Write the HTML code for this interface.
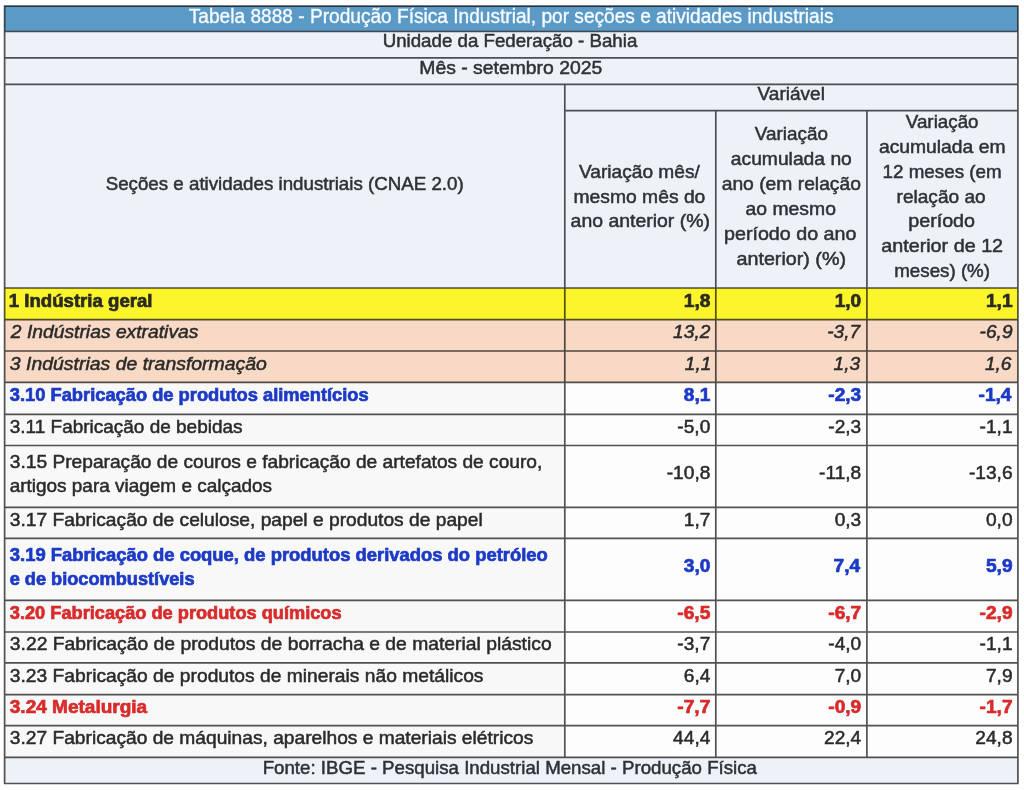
<!DOCTYPE html>
<html><head><meta charset="utf-8"><style>
html,body{margin:0;padding:0;background:#ffffff;width:1024px;height:790px;overflow:hidden}
svg{display:block;filter:blur(0.25px)}
text{font-family:"Liberation Sans",sans-serif;font-size:18.4px}
</style></head><body>
<svg width="1024" height="790" viewBox="0 0 1024 790">
<rect x="4.60" y="6.10" width="1013.30" height="25.40" fill="#5b9ac7"/>
<rect x="4.60" y="31.50" width="1013.30" height="256.50" fill="#edf1f8"/>
<rect x="4.60" y="288.00" width="1013.30" height="31.70" fill="#fcf52c"/>
<rect x="4.60" y="319.70" width="1013.30" height="62.70" fill="#f8d9c5"/>
<rect x="4.60" y="382.40" width="560.20" height="374.90" fill="#f8f8f8"/>
<rect x="564.80" y="382.40" width="453.10" height="374.90" fill="#fdfdfd"/>
<rect x="4.60" y="757.30" width="1013.30" height="26.20" fill="#edf1f8"/>
<path fill="rgba(0,0,0,0.68)" d="M3.75 5.25h1015.00v1.70h-1015.00zM3.75 30.65h1015.00v1.70h-1015.00zM3.75 57.05h1015.00v1.70h-1015.00zM3.75 83.55h1015.00v1.70h-1015.00zM3.75 287.15h1015.00v1.70h-1015.00zM3.75 318.85h1015.00v1.70h-1015.00zM3.75 350.15h1015.00v1.70h-1015.00zM3.75 381.55h1015.00v1.70h-1015.00zM3.75 413.55h1015.00v1.70h-1015.00zM3.75 444.65h1015.00v1.70h-1015.00zM3.75 506.55h1015.00v1.70h-1015.00zM3.75 537.45h1015.00v1.70h-1015.00zM3.75 599.45h1015.00v1.70h-1015.00zM3.75 631.15h1015.00v1.70h-1015.00zM3.75 662.05h1015.00v1.70h-1015.00zM3.75 693.75h1015.00v1.70h-1015.00zM3.75 724.75h1015.00v1.70h-1015.00zM3.75 756.45h1015.00v1.70h-1015.00zM3.75 782.65h1015.00v1.70h-1015.00zM565.65 109.75h451.40v1.70h-451.40zM3.75 6.95h1.70v775.70h-1.70zM1017.05 6.95h1.70v775.70h-1.70zM563.95 85.25h1.70v671.20h-1.70zM714.95 111.45h1.70v645.00h-1.70zM866.05 111.45h1.70v645.00h-1.70z"/>
<text x="188.80" y="22.50" fill="#f6fbff" stroke="#f6fbff" stroke-width="0.35" style="font-size:19.4px" textLength="644.69" lengthAdjust="spacingAndGlyphs">Tabela 8888 - Produção Física Industrial, por seções e atividades industriais</text>
<text x="382.68" y="47.10" fill="#2e3236" stroke="#2e3236" stroke-width="0.5" textLength="254.63" lengthAdjust="spacingAndGlyphs">Unidade da Federação - Bahia</text>
<text x="419.25" y="73.90" fill="#2e3236" stroke="#2e3236" stroke-width="0.5" textLength="182.99" lengthAdjust="spacingAndGlyphs">Mês - setembro 2025</text>
<text x="757.60" y="100.10" fill="#2e3236" stroke="#2e3236" stroke-width="0.5" textLength="67.32" lengthAdjust="spacingAndGlyphs">Variável</text>
<text x="105.70" y="190.00" fill="#2e3236" stroke="#2e3236" stroke-width="0.5" textLength="358.04" lengthAdjust="spacingAndGlyphs">Seções e atividades industriais (CNAE 2.0)</text>
<text x="579.00" y="177.60" fill="#2e3236" stroke="#2e3236" stroke-width="0.5" textLength="120.77" lengthAdjust="spacingAndGlyphs">Variação mês/</text>
<text x="573.55" y="202.50" fill="#2e3236" stroke="#2e3236" stroke-width="0.5" textLength="131.79" lengthAdjust="spacingAndGlyphs">mesmo mês do</text>
<text x="570.60" y="227.40" fill="#2e3236" stroke="#2e3236" stroke-width="0.5" textLength="139.39" lengthAdjust="spacingAndGlyphs">ano anterior (%)</text>
<text x="754.80" y="140.30" fill="#2e3236" stroke="#2e3236" stroke-width="0.5" textLength="73.13" lengthAdjust="spacingAndGlyphs">Variação</text>
<text x="730.80" y="165.20" fill="#2e3236" stroke="#2e3236" stroke-width="0.5" textLength="121.04" lengthAdjust="spacingAndGlyphs">acumulada no</text>
<text x="721.70" y="190.10" fill="#2e3236" stroke="#2e3236" stroke-width="0.5" textLength="139.24" lengthAdjust="spacingAndGlyphs">ano (em relação</text>
<text x="745.60" y="215.00" fill="#2e3236" stroke="#2e3236" stroke-width="0.5" textLength="90.34" lengthAdjust="spacingAndGlyphs">ao mesmo</text>
<text x="724.03" y="239.90" fill="#2e3236" stroke="#2e3236" stroke-width="0.5" textLength="132.41" lengthAdjust="spacingAndGlyphs">período do ano</text>
<text x="736.50" y="264.80" fill="#2e3236" stroke="#2e3236" stroke-width="0.5" textLength="109.50" lengthAdjust="spacingAndGlyphs">anterior) (%)</text>
<text x="905.80" y="127.80" fill="#2e3236" stroke="#2e3236" stroke-width="0.5" textLength="72.73" lengthAdjust="spacingAndGlyphs">Variação</text>
<text x="878.90" y="152.70" fill="#2e3236" stroke="#2e3236" stroke-width="0.5" textLength="126.64" lengthAdjust="spacingAndGlyphs">acumulada em</text>
<text x="882.58" y="177.60" fill="#2e3236" stroke="#2e3236" stroke-width="0.5" textLength="119.05" lengthAdjust="spacingAndGlyphs">12 meses (em</text>
<text x="896.56" y="202.50" fill="#2e3236" stroke="#2e3236" stroke-width="0.5" textLength="89.07" lengthAdjust="spacingAndGlyphs">relação ao</text>
<text x="908.23" y="227.40" fill="#2e3236" stroke="#2e3236" stroke-width="0.5" textLength="66.82" lengthAdjust="spacingAndGlyphs">período</text>
<text x="881.20" y="252.30" fill="#2e3236" stroke="#2e3236" stroke-width="0.5" textLength="121.94" lengthAdjust="spacingAndGlyphs">anterior de 12</text>
<text x="894.28" y="277.20" fill="#2e3236" stroke="#2e3236" stroke-width="0.5" textLength="95.76" lengthAdjust="spacingAndGlyphs">meses) (%)</text>
<text x="262.68" y="773.60" fill="#2e3236" stroke="#2e3236" stroke-width="0.5" textLength="494.33" lengthAdjust="spacingAndGlyphs">Fonte: IBGE - Pesquisa Industrial Mensal - Produção Física</text>
<text x="8.79" y="306.85" fill="#2b2b22" font-weight="bold" stroke="#2b2b22" stroke-width="0.7" textLength="143.73" lengthAdjust="spacingAndGlyphs">1 Indústria geral</text>
<text x="683.76" y="306.85" fill="#2b2b22" font-weight="bold" stroke="#2b2b22" stroke-width="0.7" textLength="26.58" lengthAdjust="spacingAndGlyphs">1,8</text>
<text x="834.66" y="306.85" fill="#2b2b22" font-weight="bold" stroke="#2b2b22" stroke-width="0.7" textLength="26.58" lengthAdjust="spacingAndGlyphs">1,0</text>
<text x="985.96" y="306.85" fill="#2b2b22" font-weight="bold" stroke="#2b2b22" stroke-width="0.7" textLength="26.58" lengthAdjust="spacingAndGlyphs">1,1</text>
<text x="10.85" y="338.35" fill="#2a2a2a" font-style="italic" stroke="#2a2a2a" stroke-width="0.5" textLength="187.56" lengthAdjust="spacingAndGlyphs">2 Indústrias extrativas</text>
<text x="673.13" y="338.35" fill="#2a2a2a" font-style="italic" stroke="#2a2a2a" stroke-width="0.5" textLength="37.21" lengthAdjust="spacingAndGlyphs">13,2</text>
<text x="827.25" y="338.35" fill="#2a2a2a" font-style="italic" stroke="#2a2a2a" stroke-width="0.5" textLength="32.94" lengthAdjust="spacingAndGlyphs">-3,7</text>
<text x="979.59" y="338.35" fill="#2a2a2a" font-style="italic" stroke="#2a2a2a" stroke-width="0.5" textLength="32.94" lengthAdjust="spacingAndGlyphs">-6,9</text>
<text x="9.80" y="369.70" fill="#2a2a2a" font-style="italic" stroke="#2a2a2a" stroke-width="0.5" textLength="257.14" lengthAdjust="spacingAndGlyphs">3 Indústrias de transformação</text>
<text x="684.80" y="369.70" fill="#2a2a2a" font-style="italic" stroke="#2a2a2a" stroke-width="0.5" textLength="26.58" lengthAdjust="spacingAndGlyphs">1,1</text>
<text x="833.62" y="369.70" fill="#2a2a2a" font-style="italic" stroke="#2a2a2a" stroke-width="0.5" textLength="26.58" lengthAdjust="spacingAndGlyphs">1,3</text>
<text x="984.92" y="369.70" fill="#2a2a2a" font-style="italic" stroke="#2a2a2a" stroke-width="0.5" textLength="26.58" lengthAdjust="spacingAndGlyphs">1,6</text>
<text x="9.80" y="401.40" fill="#1c3ac6" font-weight="bold" stroke="#1c3ac6" stroke-width="0.7" textLength="358.93" lengthAdjust="spacingAndGlyphs">3.10 Fabricação de produtos alimentícios</text>
<text x="683.76" y="401.40" fill="#1c3ac6" font-weight="bold" stroke="#1c3ac6" stroke-width="0.7" textLength="26.58" lengthAdjust="spacingAndGlyphs">8,1</text>
<text x="828.29" y="401.40" fill="#1c3ac6" font-weight="bold" stroke="#1c3ac6" stroke-width="0.7" textLength="32.94" lengthAdjust="spacingAndGlyphs">-2,3</text>
<text x="978.55" y="401.40" fill="#1c3ac6" font-weight="bold" stroke="#1c3ac6" stroke-width="0.7" textLength="32.94" lengthAdjust="spacingAndGlyphs">-1,4</text>
<text x="9.80" y="432.95" fill="#2a2a2a" stroke="#2a2a2a" stroke-width="0.5" textLength="232.70" lengthAdjust="spacingAndGlyphs">3.11 Fabricação de bebidas</text>
<text x="677.39" y="432.95" fill="#2a2a2a" stroke="#2a2a2a" stroke-width="0.5" textLength="32.94" lengthAdjust="spacingAndGlyphs">-5,0</text>
<text x="828.29" y="432.95" fill="#2a2a2a" stroke="#2a2a2a" stroke-width="0.5" textLength="32.94" lengthAdjust="spacingAndGlyphs">-2,3</text>
<text x="979.59" y="432.95" fill="#2a2a2a" stroke="#2a2a2a" stroke-width="0.5" textLength="32.94" lengthAdjust="spacingAndGlyphs">-1,1</text>
<text x="9.80" y="467.65" fill="#2a2a2a" stroke="#2a2a2a" stroke-width="0.5" textLength="532.56" lengthAdjust="spacingAndGlyphs">3.15 Preparação de couros e fabricação de artefatos de couro,</text>
<text x="9.70" y="492.05" fill="#2a2a2a" stroke="#2a2a2a" stroke-width="0.5" textLength="262.30" lengthAdjust="spacingAndGlyphs">artigos para viagem e calçados</text>
<text x="666.76" y="479.45" fill="#2a2a2a" stroke="#2a2a2a" stroke-width="0.5" textLength="43.58" lengthAdjust="spacingAndGlyphs">-10,8</text>
<text x="819.08" y="479.45" fill="#2a2a2a" stroke="#2a2a2a" stroke-width="0.5" textLength="42.16" lengthAdjust="spacingAndGlyphs">-11,8</text>
<text x="968.96" y="479.45" fill="#2a2a2a" stroke="#2a2a2a" stroke-width="0.5" textLength="43.58" lengthAdjust="spacingAndGlyphs">-13,6</text>
<text x="9.80" y="525.85" fill="#2a2a2a" stroke="#2a2a2a" stroke-width="0.5" textLength="472.93" lengthAdjust="spacingAndGlyphs">3.17 Fabricação de celulose, papel e produtos de papel</text>
<text x="683.76" y="525.85" fill="#2a2a2a" stroke="#2a2a2a" stroke-width="0.5" textLength="26.58" lengthAdjust="spacingAndGlyphs">1,7</text>
<text x="834.66" y="525.85" fill="#2a2a2a" stroke="#2a2a2a" stroke-width="0.5" textLength="26.58" lengthAdjust="spacingAndGlyphs">0,3</text>
<text x="985.96" y="525.85" fill="#2a2a2a" stroke="#2a2a2a" stroke-width="0.5" textLength="26.58" lengthAdjust="spacingAndGlyphs">0,0</text>
<text x="9.80" y="560.50" fill="#1c3ac6" font-weight="bold" stroke="#1c3ac6" stroke-width="0.7" textLength="538.03" lengthAdjust="spacingAndGlyphs">3.19 Fabricação de coque, de produtos derivados do petróleo</text>
<text x="9.70" y="584.90" fill="#1c3ac6" font-weight="bold" stroke="#1c3ac6" stroke-width="0.7" textLength="184.83" lengthAdjust="spacingAndGlyphs">e de biocombustíveis</text>
<text x="683.76" y="572.30" fill="#1c3ac6" font-weight="bold" stroke="#1c3ac6" stroke-width="0.7" textLength="26.58" lengthAdjust="spacingAndGlyphs">3,0</text>
<text x="833.62" y="572.30" fill="#1c3ac6" font-weight="bold" stroke="#1c3ac6" stroke-width="0.7" textLength="26.58" lengthAdjust="spacingAndGlyphs">7,4</text>
<text x="985.96" y="572.30" fill="#1c3ac6" font-weight="bold" stroke="#1c3ac6" stroke-width="0.7" textLength="26.58" lengthAdjust="spacingAndGlyphs">5,9</text>
<text x="9.80" y="619.15" fill="#d92b2b" font-weight="bold" stroke="#d92b2b" stroke-width="0.7" textLength="331.83" lengthAdjust="spacingAndGlyphs">3.20 Fabricação de produtos químicos</text>
<text x="677.39" y="619.15" fill="#d92b2b" font-weight="bold" stroke="#d92b2b" stroke-width="0.7" textLength="32.94" lengthAdjust="spacingAndGlyphs">-6,5</text>
<text x="828.29" y="619.15" fill="#d92b2b" font-weight="bold" stroke="#d92b2b" stroke-width="0.7" textLength="32.94" lengthAdjust="spacingAndGlyphs">-6,7</text>
<text x="979.59" y="619.15" fill="#d92b2b" font-weight="bold" stroke="#d92b2b" stroke-width="0.7" textLength="32.94" lengthAdjust="spacingAndGlyphs">-2,9</text>
<text x="9.80" y="650.45" fill="#2a2a2a" stroke="#2a2a2a" stroke-width="0.5" textLength="541.84" lengthAdjust="spacingAndGlyphs">3.22 Fabricação de produtos de borracha e de material plástico</text>
<text x="677.39" y="650.45" fill="#2a2a2a" stroke="#2a2a2a" stroke-width="0.5" textLength="32.94" lengthAdjust="spacingAndGlyphs">-3,7</text>
<text x="828.29" y="650.45" fill="#2a2a2a" stroke="#2a2a2a" stroke-width="0.5" textLength="32.94" lengthAdjust="spacingAndGlyphs">-4,0</text>
<text x="979.59" y="650.45" fill="#2a2a2a" stroke="#2a2a2a" stroke-width="0.5" textLength="32.94" lengthAdjust="spacingAndGlyphs">-1,1</text>
<text x="9.80" y="681.75" fill="#2a2a2a" stroke="#2a2a2a" stroke-width="0.5" textLength="473.70" lengthAdjust="spacingAndGlyphs">3.23 Fabricação de produtos de minerais não metálicos</text>
<text x="683.76" y="681.75" fill="#2a2a2a" stroke="#2a2a2a" stroke-width="0.5" textLength="26.58" lengthAdjust="spacingAndGlyphs">6,4</text>
<text x="834.66" y="681.75" fill="#2a2a2a" stroke="#2a2a2a" stroke-width="0.5" textLength="26.58" lengthAdjust="spacingAndGlyphs">7,0</text>
<text x="985.96" y="681.75" fill="#2a2a2a" stroke="#2a2a2a" stroke-width="0.5" textLength="26.58" lengthAdjust="spacingAndGlyphs">7,9</text>
<text x="9.80" y="713.10" fill="#d92b2b" font-weight="bold" stroke="#d92b2b" stroke-width="0.7" textLength="137.40" lengthAdjust="spacingAndGlyphs">3.24 Metalurgia</text>
<text x="677.39" y="713.10" fill="#d92b2b" font-weight="bold" stroke="#d92b2b" stroke-width="0.7" textLength="32.94" lengthAdjust="spacingAndGlyphs">-7,7</text>
<text x="828.29" y="713.10" fill="#d92b2b" font-weight="bold" stroke="#d92b2b" stroke-width="0.7" textLength="32.94" lengthAdjust="spacingAndGlyphs">-0,9</text>
<text x="979.59" y="713.10" fill="#d92b2b" font-weight="bold" stroke="#d92b2b" stroke-width="0.7" textLength="32.94" lengthAdjust="spacingAndGlyphs">-1,7</text>
<text x="9.80" y="744.45" fill="#2a2a2a" stroke="#2a2a2a" stroke-width="0.5" textLength="523.50" lengthAdjust="spacingAndGlyphs">3.27 Fabricação de máquinas, aparelhos e materiais elétricos</text>
<text x="673.13" y="744.45" fill="#2a2a2a" stroke="#2a2a2a" stroke-width="0.5" textLength="37.21" lengthAdjust="spacingAndGlyphs">44,4</text>
<text x="824.03" y="744.45" fill="#2a2a2a" stroke="#2a2a2a" stroke-width="0.5" textLength="37.21" lengthAdjust="spacingAndGlyphs">22,4</text>
<text x="975.33" y="744.45" fill="#2a2a2a" stroke="#2a2a2a" stroke-width="0.5" textLength="37.21" lengthAdjust="spacingAndGlyphs">24,8</text>
</svg>
</body></html>
